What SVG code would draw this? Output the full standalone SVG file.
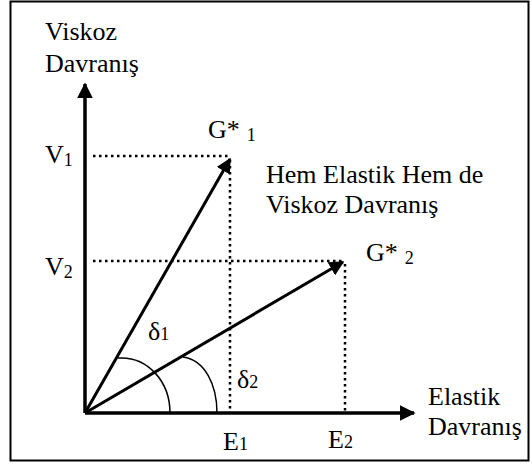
<svg xmlns="http://www.w3.org/2000/svg" width="532" height="466" viewBox="0 0 532 466">
<style>
text{font-family:"Liberation Serif","Times New Roman",serif;font-size:26px;fill:#000}
.sub{font-size:18px}
.axis{stroke:#000;stroke-width:3.5;fill:none}
.vec{stroke:#000;stroke-width:3;fill:none}
.dot{stroke:#000;stroke-width:2.5;stroke-dasharray:2.5 3.5;fill:none}
.arc{stroke:#000;stroke-width:1.5;fill:none}
</style>
<defs>
<marker id="ah" viewBox="0 0 10 10" refX="9" refY="5" markerWidth="4.5" markerHeight="4.5" markerUnits="strokeWidth" orient="auto">
<path d="M0,0 L10,5 L0,10 Z" fill="#000"/>
</marker>
<marker id="av" viewBox="0 0 10 10" refX="9" refY="5" markerWidth="5" markerHeight="5" markerUnits="strokeWidth" orient="auto">
<path d="M0,0 L10,5 L0,10 Z" fill="#000"/>
</marker>
</defs>
<rect x="10.5" y="1.5" width="518" height="459" fill="#fff" stroke="#000" stroke-width="2"/>
<g id="connectors">
<line class="dot" x1="93" y1="156" x2="230" y2="156"/>
<line class="dot" x1="230" y1="160" x2="230" y2="412"/>
<line class="dot" x1="93" y1="261" x2="345" y2="261"/>
<line class="dot" x1="345" y1="264" x2="345" y2="412"/>
<line class="axis" x1="85" y1="413" x2="85" y2="84" marker-end="url(#ah)"/>
<line class="axis" x1="85" y1="413" x2="414" y2="413" marker-end="url(#ah)"/>
<line class="vec" x1="85" y1="413" x2="230" y2="159" marker-end="url(#av)"/>
<line class="vec" x1="85" y1="413" x2="343" y2="262" marker-end="url(#av)"/>
<path class="arc" d="M118,358 C148,356 170,382 170,413"/>
<path class="arc" d="M183,357 C205,360 217,385 217,413"/>
</g>
<g id="label-viskoz"><text x="45" y="40">Viskoz</text><text x="45" y="72">Davranış</text></g>
<g id="label-elastik"><text x="428" y="405">Elastik</text><text x="428" y="435">Davranış</text></g>
<g id="label-both"><text x="266" y="183">Hem Elastik Hem de</text><text x="266" y="213">Viskoz Davranış</text></g>
<g id="G1"><text x="208" y="138">G*<tspan class="sub" dx="7" dy="3">1</tspan></text></g>
<g id="G2"><text x="366" y="261">G*<tspan class="sub" dx="7" dy="3">2</tspan></text></g>
<g id="V1"><text x="45" y="163">V<tspan class="sub" dy="3">1</tspan></text></g>
<g id="V2"><text x="45" y="275">V<tspan class="sub" dy="3">2</tspan></text></g>
<g id="E1"><text x="223" y="450">E<tspan class="sub" dy="0">1</tspan></text></g>
<g id="E2"><text x="328" y="448">E<tspan class="sub" dy="0">2</tspan></text></g>
<g id="d1"><text x="148" y="340">δ<tspan class="sub" dy="0">1</tspan></text></g>
<g id="d2"><text x="237" y="388">δ<tspan class="sub" dy="0">2</tspan></text></g>
</svg>
